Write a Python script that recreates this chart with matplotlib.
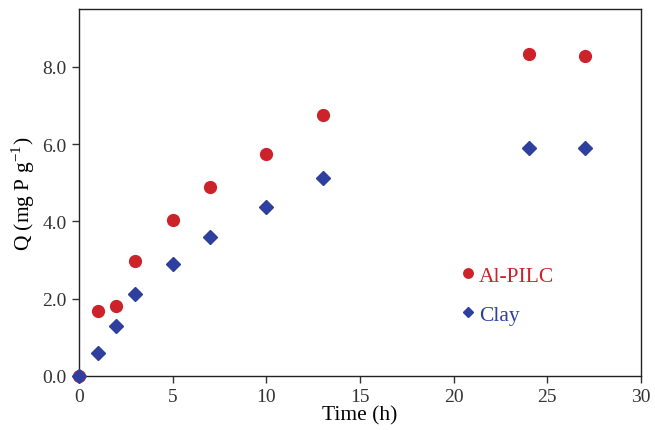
"""Phosphate adsorption kinetics on clay and Al-PILC."""

import matplotlib
matplotlib.use("Agg")
import matplotlib.pyplot as plt

plt.rcParams["font.family"] = ["Liberation Serif", "DejaVu Serif"]
plt.rcParams["mathtext.fontset"] = "stix"

time_h = [0, 1, 2, 3, 5, 7, 10, 13, 24, 27]
q_pilc = [0.0, 1.68, 1.81, 2.97, 4.03, 4.88, 5.74, 6.74, 8.32, 8.29]
q_clay = [0.0, 0.59, 1.29, 2.12, 2.89, 3.59, 4.37, 5.12, 5.89, 5.89]

RED = "#cc2229"
BLUE = "#2f3f9f"

fig = plt.figure(figsize=(6.55, 4.31), dpi=100)
ax = fig.add_axes([0.1206, 0.1253, 0.858, 0.852])

ax.plot(time_h, q_pilc, "o", color=RED, ms=8.5, mec=RED, label="Al-PILC",
        zorder=3, clip_on=False)
ax.plot(time_h, q_clay, "D", color=BLUE, ms=7, mec=BLUE, label="Clay",
        zorder=4, clip_on=False)

ax.set_xlim(0, 30)
ax.set_ylim(0, 9.5)
ax.set_xticks([0, 5, 10, 15, 20, 25, 30])
ax.set_yticks([0, 2, 4, 6, 8])
ax.set_yticklabels([f"{v:.1f}" for v in [0, 2, 4, 6, 8]])
ax.tick_params(direction="out", length=5, width=1, labelsize=14, colors="#333333",
               labelcolor="#333333", pad=4)
for side in ax.spines.values():
    side.set_color("#222222")
    side.set_linewidth(1.0)

ax.set_xlabel("Time (h)", fontsize=15.5, labelpad=0)
ax.set_ylabel("Q (mg P g$^{\\mathregular{-1}}$)", fontsize=15.5, labelpad=4)

leg = ax.legend(loc="upper left", bbox_to_anchor=(0.677, 0.301), frameon=False,
                fontsize=15.5, handlelength=0.8, handletextpad=0.1,
                labelspacing=0.9, borderaxespad=0, borderpad=0, markerscale=0.8)
for text, col in zip(leg.get_texts(), [RED, BLUE]):
    text.set_color(col)

fig.savefig("out.png", dpi=100)
